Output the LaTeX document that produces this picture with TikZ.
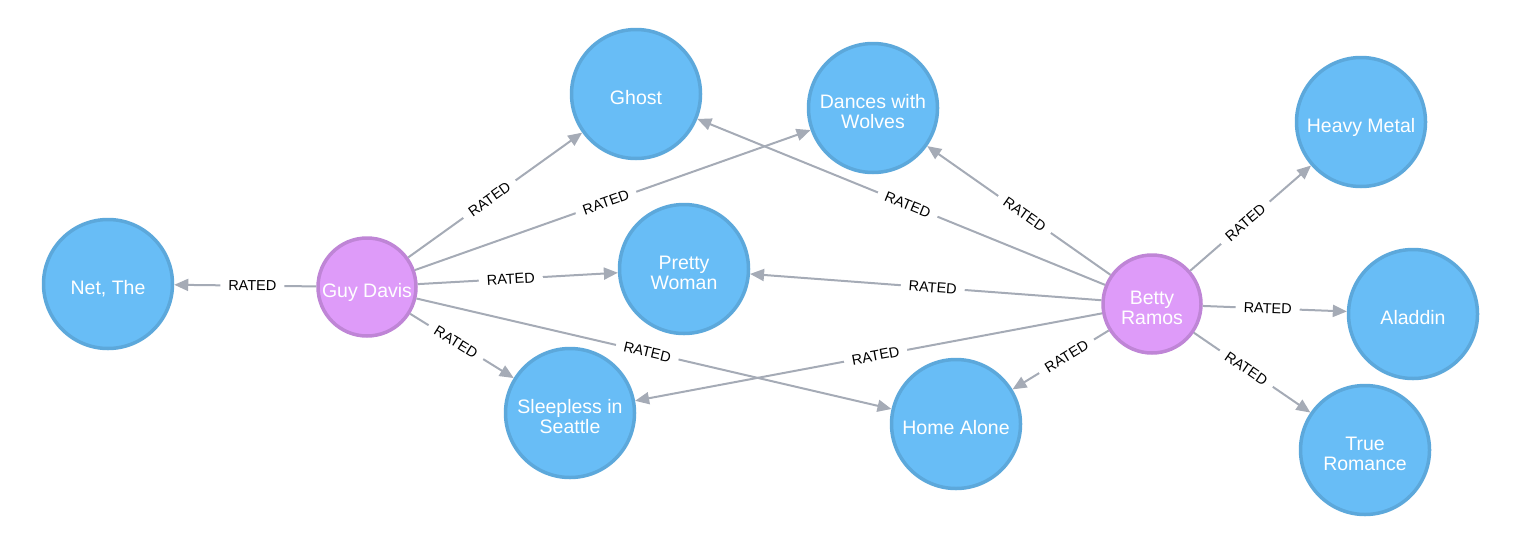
\documentclass[tikz,border=0pt]{standalone}
\usepackage{fontspec}
\setmainfont{Liberation Sans}
\usetikzlibrary{arrows.meta}
\definecolor{moviefill}{HTML}{68BDF6}
\definecolor{movieline}{HTML}{5CA8DB}
\definecolor{personfill}{HTML}{DE9BF9}
\definecolor{personline}{HTML}{BF85D6}
\definecolor{relline}{HTML}{A5ABB6}
\tikzset{
  movie/.style={circle, fill=moviefill, draw=movieline, line width=3.5pt,
    minimum size=129pt, inner sep=0pt, text=white, align=center,
    text height=20pt, text depth=0pt,
    font=\fontsize{19.5}{20}\selectfont},
  person/.style={movie, fill=personfill, draw=personline, minimum size=98pt},
  twoline/.style={text height=40pt},
  lbl/.style={fill=white, text=black, sloped, inner xsep=8pt,
    inner ysep=1pt, font=\fontsize{14.5}{15}\selectfont},
}
\begin{document}
\begin{tikzpicture}[x=1pt,y=-1pt]
      \useasboundingbox (0,0) rectangle (1520,552);
      \path
        (108,284) node[movie] (net){Net, The}
        (367,287) node[person] (guy){Guy Davis}
        (636,94) node[movie] (ghost){Ghost}
        (873,108) node[movie, twoline] (dances){Dances with\\Wolves}
        (684,269) node[movie, twoline] (pretty){Pretty\\Woman}
        (570,413) node[movie, twoline] (sleepless){Sleepless in\\Seattle}
        (956,424) node[movie] (home){Home Alone}
        (1152,304) node[person, twoline] (betty){Betty\\Ramos}
        (1361,122) node[movie] (heavy){Heavy Metal}
        (1413,314) node[movie] (aladdin){Aladdin}
        (1365,450) node[movie, twoline] (trueromance){True\\Romance};
      \begin{scope}[draw=relline, line width=2pt, -{Triangle[length=14pt,width=12pt]}]
        \draw (guy) to node[lbl, pos=.45]{RATED} (net);
        \draw (guy) to node[lbl, pos=.467]{RATED} (ghost);
        \draw (guy) to node[lbl, pos=.483]{RATED} (dances);
        \draw (guy) to node[lbl, pos=.465]{RATED} (pretty);
        \draw (guy) to node[lbl, pos=.442]{RATED} (sleepless);
        \draw (guy) to node[lbl, pos=.486]{RATED} (home);
        \draw (betty) to node[lbl, pos=.484]{RATED} (ghost);
        \draw (betty) to node[lbl, pos=.469]{RATED} (dances);
        \draw (betty) to node[lbl, pos=.48]{RATED} (pretty);
        \draw (betty) to node[lbl, pos=.485]{RATED} (sleepless);
        \draw (betty) to node[lbl, pos=.438]{RATED} (home);
        \draw (betty) to node[lbl, pos=.456]{RATED} (heavy);
        \draw (betty) to node[lbl, pos=.451]{RATED} (aladdin);
        \draw (betty) to node[lbl, pos=.45]{RATED} (trueromance);
      \end{scope}
    \end{tikzpicture}
\end{document}
